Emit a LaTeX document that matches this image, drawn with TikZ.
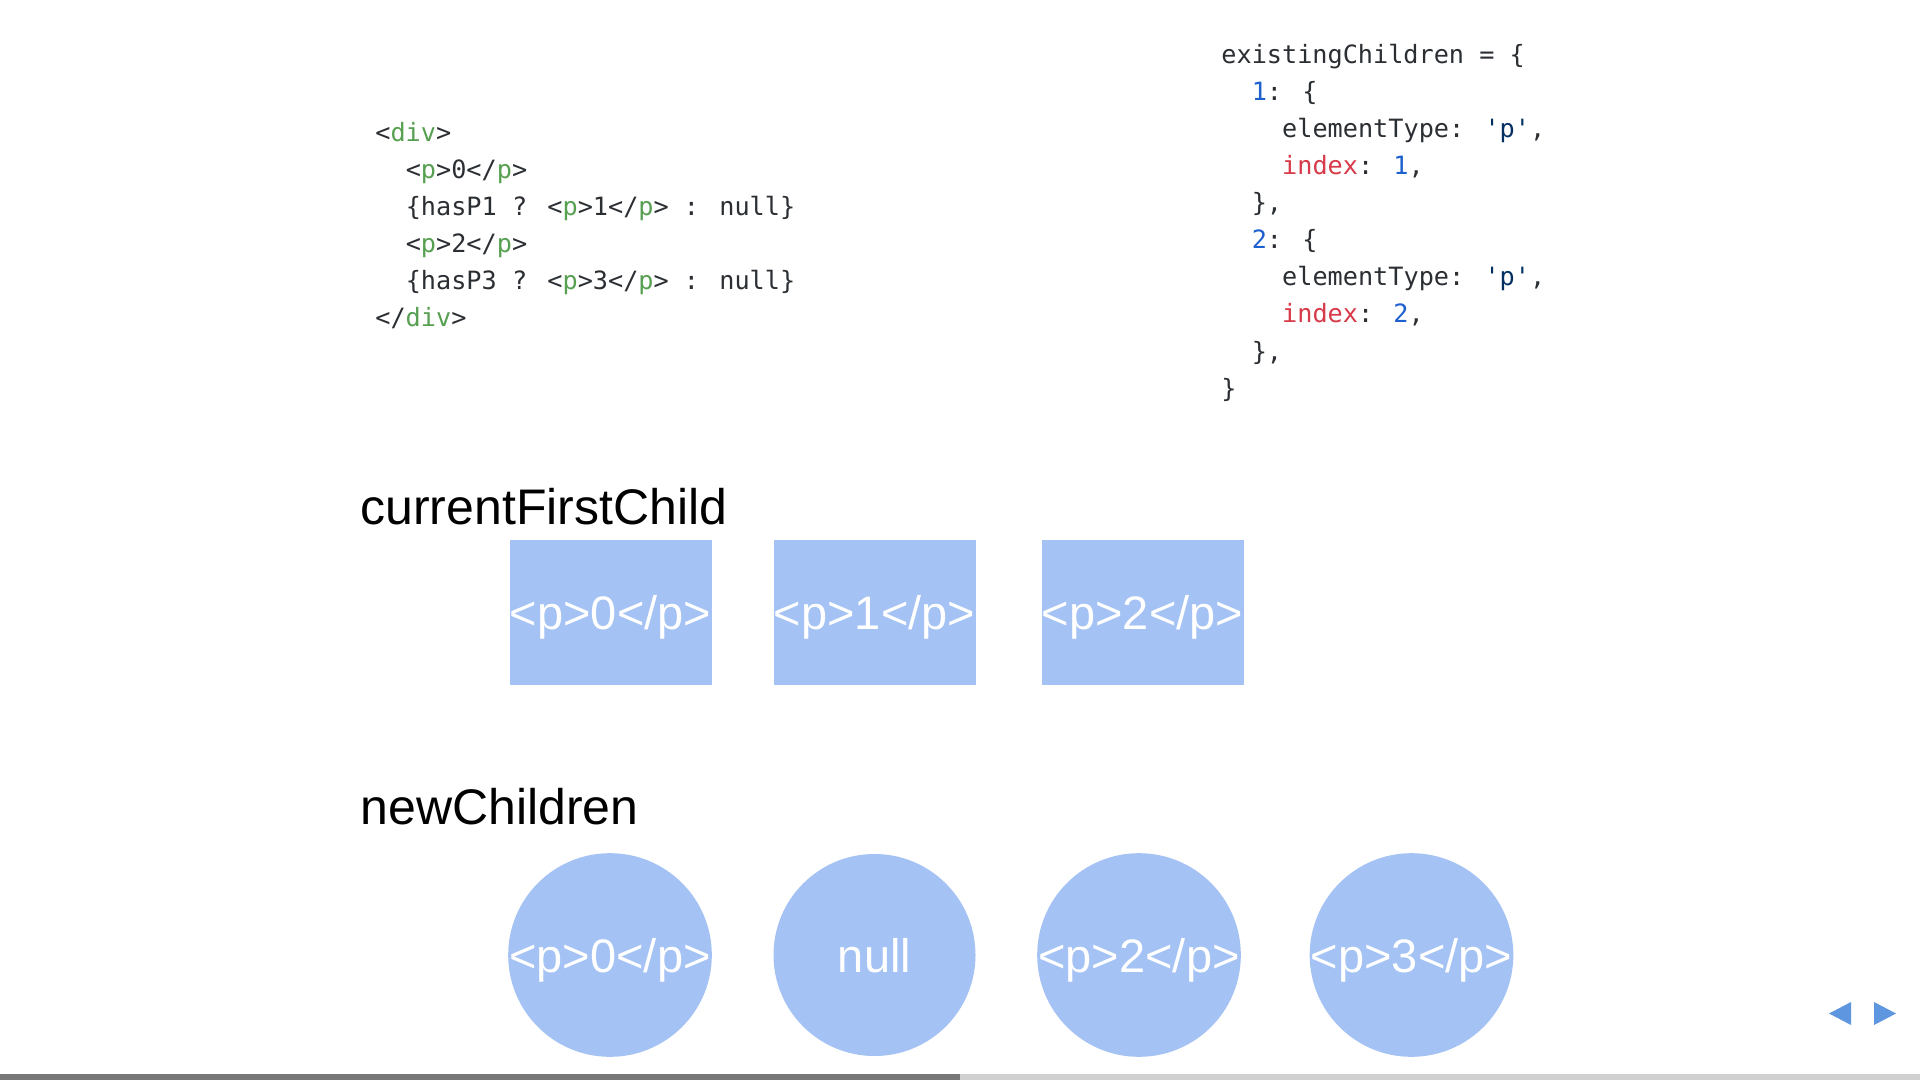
\documentclass[tikz,border=0pt]{standalone}
\usepackage{fontspec}
\setmainfont{Liberation Sans}
\newfontfamily\codefont{DejaVu Sans Mono}
\usepackage{xcolor}
\usepackage{tikz}
\usetikzlibrary{positioning}
\definecolor{boxblue}{HTML}{A4C2F4}
\definecolor{navblue}{HTML}{5E97DF}
\definecolor{codegray}{HTML}{2B2F33}
\definecolor{taggreen}{HTML}{57A051}
\definecolor{keyred}{HTML}{D73A49}
\definecolor{numblue}{HTML}{1F60CF}
\definecolor{strnavy}{HTML}{032F62}
\definecolor{bardark}{HTML}{777777}
\definecolor{barlight}{HTML}{D0D0D0}
\newcommand{\tg}[1]{{\color{taggreen}#1}}
\newcommand{\kr}[1]{{\color{keyred}#1}}
\newcommand{\nb}[1]{{\color{numblue}#1}}
\newcommand{\sq}[1]{{\color{strnavy}'#1'}}

\begin{document}
\begin{tikzpicture}[x=0.5pt,y=-0.5pt,
  code/.style={anchor=base west,inner sep=0pt,text=codegray,font=\codefont\fontsize{12.6pt}{15pt}\selectfont},
  heading/.style={anchor=base west,inner sep=0pt,font=\fontsize{25pt}{30pt}\selectfont},
  kid/.style={fill=boxblue,text=white,inner sep=0pt,text height=17pt,text depth=0pt,font=\fontsize{23.5pt}{28pt}\selectfont},
  oldkid/.style={kid,rectangle,minimum width=101pt,minimum height=72.5pt},
  newkid/.style={kid,circle,minimum size=101pt}]
\fill[white] (0,0) rectangle (1920,1080);
\useasboundingbox (0,0) rectangle (1920,1080);
% jsx source
\node[code] (jsx1) at (375,142) {<\tg{div}>};
\node[code] (jsx2) at (405.4,179) {<\tg{p}>0</\tg{p}>};
\node[code] (jsx3) at (405.4,216) {\{hasP1 ? <\tg{p}>1</\tg{p}> : null\}};
\node[code] (jsx4) at (405.4,253) {<\tg{p}>2</\tg{p}>};
\node[code] (jsx5) at (405.4,290) {\{hasP3 ? <\tg{p}>3</\tg{p}> : null\}};
\node[code] (jsx6) at (375,327) {</\tg{div}>};
% map of old children
\node[code] (map1) at (1221,64) {existingChildren = \{};
\node[code] (map2) at (1251.4,101) {\nb{1}: \{};
\node[code] (map3) at (1281.8,138) {elementType: \sq{p},};
\node[code] (map4) at (1281.8,175) {\kr{index}: \nb{1},};
\node[code] (map5) at (1251.4,212) {\},};
\node[code] (map6) at (1251.4,249) {\nb{2}: \{};
\node[code] (map7) at (1281.8,286) {elementType: \sq{p},};
\node[code] (map8) at (1281.8,323) {\kr{index}: \nb{2},};
\node[code] (map9) at (1251.4,360) {\},};
\node[code] (map10) at (1221,397) {\}};
% fibers and elements
\node[heading] (oldhead) at (360,524) {currentFirstChild};
\node[oldkid] (old0) at (610.5,612.5) {<p>0</p>};
\node[oldkid] (old1) at (874.5,612.5) {<p>1</p>};
\node[oldkid] (old2) at (1142.5,612.5) {<p>2</p>};
\node[heading] (newhead) at (360,824) {newChildren};
\node[newkid] (new0) at (610,955) {<p>0</p>};
\node[newkid] (new1) at (874.5,955) {null};
\node[newkid] (new2) at (1139,955) {<p>2</p>};
\node[newkid] (new3) at (1411.5,955) {<p>3</p>};
% controls
\fill[navblue] (1829,1013.5) -- (1851,1002) -- (1851,1025) -- cycle;
\fill[navblue] (1874,1002) -- (1896,1013.5) -- (1874,1025) -- cycle;
\fill[bardark] (0,1074) rectangle (960,1080);
\fill[barlight] (960,1074) rectangle (1920,1080);
\end{tikzpicture}
\end{document}
